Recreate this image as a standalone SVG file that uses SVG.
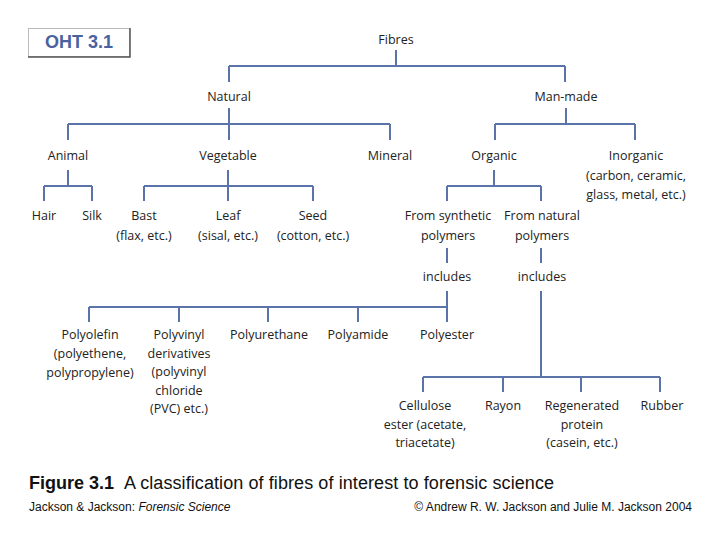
<svg xmlns="http://www.w3.org/2000/svg" width="720" height="540" viewBox="0 0 720 540">
<style>
.t{font-family:"Open Sans","Noto Sans",sans-serif;font-size:12.5px;fill:#222;text-anchor:middle}
.c{fill:none;stroke:#5a73a8;stroke-width:2}
.cap{font-family:"Liberation Sans",Arial,sans-serif;fill:#111}
</style>
<rect width="720" height="540" fill="#fff"/>
<g id="oht">
<rect x="28.5" y="28.5" width="101" height="28" fill="#fff" stroke="#bbb" stroke-width="1"/>
<path d="M130 28V57H28" fill="none" stroke="#555" stroke-width="1.5"/>
<text x="79" y="48" font-family="Liberation Sans,Arial,sans-serif" font-weight="bold" font-size="18" fill="#4a62a0" text-anchor="middle">OHT 3.1</text>
</g>
<g id="connectors" class="c">
<path d="M396 50V66M229 66H565M229 66V82M565 66V82"/>
<path d="M229 108V124M68 124H390M68 124V140M229 124V140M390 124V140"/>
<path d="M566 108V124M495 124H635M495 124V140M635 124V140"/>
<path d="M68 170V186M44 186H92M44 186V201M92 186V201"/>
<path d="M228 170V186M144 186H313M144 186V201M228 186V201M313 186V201"/>
<path d="M494 170V186M447 186H541M447 186V201M541 186V201"/>
<path d="M447 248V263M541 248V263"/>
<path d="M447 291V322M89 307H447M89 307V322M179 307V322M268 307V322M358 307V322"/>
<path d="M541 291V377M423 377H660M423 377V392M503 377V392M581 377V392M660 377V392"/>
</g>
<g id="fibres"><text class="t" x="396" y="44">Fibres</text></g>
<g id="natural"><text class="t" x="229" y="101">Natural</text></g>
<g id="manmade"><text class="t" x="566" y="101">Man-made</text></g>
<g id="animal"><text class="t" x="68" y="160">Animal</text></g>
<g id="vegetable"><text class="t" x="228" y="160">Vegetable</text></g>
<g id="mineral"><text class="t" x="390" y="160">Mineral</text></g>
<g id="organic"><text class="t" x="494" y="160">Organic</text></g>
<g id="inorganic"><text class="t" x="636" y="160">Inorganic<tspan x="636" dy="19.5">(carbon, ceramic,</tspan><tspan x="636" dy="19.5">glass, metal, etc.)</tspan></text></g>
<g id="hair"><text class="t" x="44" y="220">Hair</text></g>
<g id="silk"><text class="t" x="92" y="220">Silk</text></g>
<g id="bast"><text class="t" x="144" y="220">Bast<tspan x="144" dy="19.5">(flax, etc.)</tspan></text></g>
<g id="leaf"><text class="t" x="228" y="220">Leaf<tspan x="228" dy="19.5">(sisal, etc.)</tspan></text></g>
<g id="seed"><text class="t" x="313" y="220">Seed<tspan x="313" dy="19.5">(cotton, etc.)</tspan></text></g>
<g id="synthetic"><text class="t" x="448" y="220">From synthetic<tspan x="448" dy="19.5">polymers</tspan></text></g>
<g id="naturalpoly"><text class="t" x="542" y="220">From natural<tspan x="542" dy="19.5">polymers</tspan></text></g>
<g id="includes1"><text class="t" x="447" y="281">includes</text></g>
<g id="includes2"><text class="t" x="542" y="281">includes</text></g>
<g id="polyolefin"><text class="t" x="90" y="339">Polyolefin<tspan x="90" dy="19">(polyethene,</tspan><tspan x="90" dy="19">polypropylene)</tspan></text></g>
<g id="polyvinyl"><text class="t" x="179" y="339">Polyvinyl<tspan x="179" dy="18.5">derivatives</tspan><tspan x="179" dy="18.5">(polyvinyl</tspan><tspan x="179" dy="18.5">chloride</tspan><tspan x="179" dy="18.5">(PVC) etc.)</tspan></text></g>
<g id="polyurethane"><text class="t" x="269" y="339">Polyurethane</text></g>
<g id="polyamide"><text class="t" x="358" y="339">Polyamide</text></g>
<g id="polyester"><text class="t" x="447" y="339">Polyester</text></g>
<g id="cellulose"><text class="t" x="425" y="410">Cellulose<tspan x="425" dy="18.5">ester (acetate,</tspan><tspan x="425" dy="18.5">triacetate)</tspan></text></g>
<g id="rayon"><text class="t" x="503" y="410">Rayon</text></g>
<g id="regenerated"><text class="t" x="582" y="410">Regenerated<tspan x="582" dy="18.5">protein</tspan><tspan x="582" dy="18.5">(casein, etc.)</tspan></text></g>
<g id="rubber"><text class="t" x="662" y="410">Rubber</text></g>
<g id="caption">
<text class="cap" x="29" y="489" font-size="18"><tspan font-weight="bold">Figure 3.1</tspan><tspan x="124" textLength="430" lengthAdjust="spacing">A classification of fibres of interest to forensic science</tspan></text>
<text class="cap" x="29" y="511" font-size="12">Jackson &amp; Jackson: <tspan font-style="italic">Forensic Science</tspan></text>
<text class="cap" x="692" y="511" font-size="12" text-anchor="end">© Andrew R. W. Jackson and Julie M. Jackson 2004</text>
</g>
</svg>
